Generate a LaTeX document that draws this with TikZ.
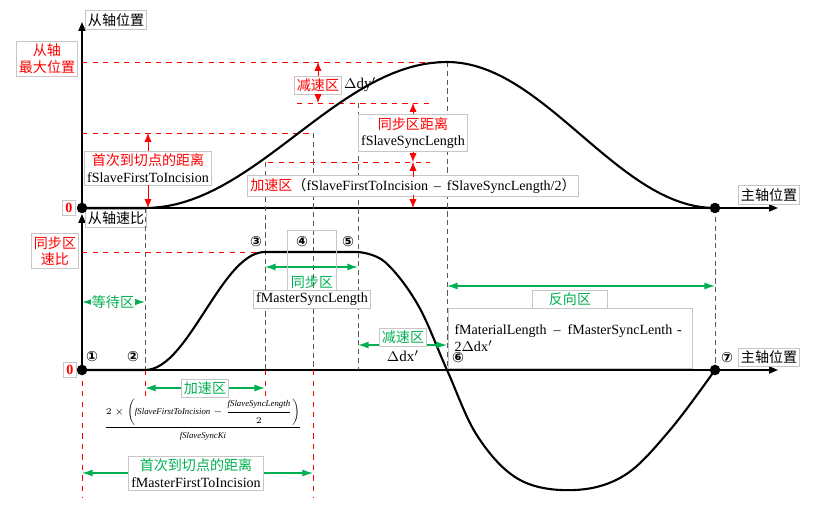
\documentclass[tikz,border=0pt]{standalone}
\usepackage{amsmath}
\usepackage{fontspec}
\setmainfont{Liberation Serif}
\newfontfamily\cjk{Noto Sans CJK SC}
\newfontfamily\symf{DejaVu Sans}
\usetikzlibrary{arrows.meta}
\definecolor{tgreen}{RGB}{0,176,80}
\tikzset{
  lbl/.style={draw=gray!45, fill=white, inner sep=1.5pt, align=center, font=\fontsize{8}{9.5}\selectfont},
  axis/.style={thick, -{Triangle[length=5pt,width=4pt]}},
  guide/.style={densely dashed, gray!70!black, thin},
  redguide/.style={dashed, red, thin},
  redarr/.style={red, thin, -{Latex[length=5pt,width=4pt]}},
  grnarr/.style={tgreen, thick, {Latex[length=6pt,width=4pt]}-{Latex[length=6pt,width=4pt]}},
  dot/.style={circle, fill, inner sep=0pt, minimum size=6pt},
  num/.style={font=\symf\fontsize{8}{9}\selectfont\bfseries, inner sep=0pt}
}
\begin{document}
\begin{tikzpicture}[x=0.02cm, y=-0.02cm]
\useasboundingbox (0,0) rectangle (826,507);

% Coordinates
\coordinate (O1) at (82,208);  \coordinate (O2) at (82,370);
\coordinate (P) at (447,62);   \coordinate (E1) at (715,208);  \coordinate (E2) at (715,370);

% Axes
\draw[axis] (O1) -- (82,22) coordinate (Y1);
\draw[axis] (O1) -- (778,208) coordinate (X1);
\draw[axis] (O2) -- (82,214) coordinate (Y2);
\draw[axis] (O2) -- (778,370) coordinate (X2);
\node[lbl, anchor=west] (ly1) at (85,20) {\cjk 从轴位置};
\node[lbl, anchor=west] (lx1) at (738,195) {\cjk 主轴位置};
\node[lbl, anchor=west] (ly2) at (85,218) {\cjk 从轴速比};
\node[lbl, anchor=west] (lx2) at (738,357) {\cjk 主轴位置};

% Guide lines
\draw[guide] (145,208) -- (145,370);
\draw[guide] (265,162) -- (265,370);
\draw[guide] (313,133) -- (313,370);
\draw[guide] (358,103) -- (358,370);
\draw[guide] (P) -- (447,370);
\draw[guide] (E1) -- (E2);
\draw[redguide] (82,62) -- (P);
\draw[redguide] (297,103) -- (430,103);
\draw[redguide] (82,133) -- (313,133);
\draw[redguide] (268,162) -- (430,162);
\draw[redguide] (82,252) -- (265,252);
\foreach \xx/\yy in {82/497, 145/397, 265/397, 313/497}
  \draw[redguide] (\xx,370) -- (\xx,\yy);

% Curves
\draw[very thick] (O1) -- (145,208)
  -- plot[domain=0:1, samples=40] ({145+302*\x}, {208-73*(1-cos(180*\x))})
  -- plot[domain=0:1, samples=40] ({447+268*\x}, {62+73*(1-cos(180*\x))});
\draw[very thick] (O2) -- (145,370)
  -- plot[domain=0:1, samples=30] ({145+120*\x}, {370-59*(1-cos(180*\x))})
  -- (358,252)
  plot[smooth, tension=0.6] coordinates {(358,252) (385,262) (418,305) (447,370) (478,437) (520,480) (575,490) (625,475) (670,430) (715,370)};
\node[dot] (d1) at (O1) {}; \node[dot] (d2) at (E1) {};
\node[dot] (d3) at (O2) {}; \node[dot] (d4) at (E2) {};

% Top labels
\node[lbl, text=red] (ymax) at (47,59) {\cjk 从轴\\\cjk 最大位置};
\node[lbl, text=red, font=\bfseries\fontsize{8}{9}\selectfont] (z1) at (69,208) {0};
\node[lbl] (first) at (148,168) {\textcolor{red}{\cjk 首次到切点的距离}\\fSlaveFirstToIncision};
\draw[redarr] (first.north) -- (148,133);
\draw[redarr] (first.south) -- (148,208);
\node[lbl, text=red] (dec) at (318,85) {\cjk 减速区};
\node[anchor=west, font=\fontsize{8.5}{9}\selectfont, inner sep=1pt] (dy) at (dec.east) {$\Delta$dy$'$};
\draw[redarr] (dec.north) -- (318,62);
\draw[redarr] (dec.south) -- (318,103);
\node[lbl] (sync) at (413,133) {\textcolor{red}{\cjk 同步区距离}\\fSlaveSyncLength};
\draw[redarr] (sync.north) -- (413,103);
\draw[redarr] (sync.south) -- (413,162);
\node[lbl] (acc) at (413,186) {\textcolor{red}{\cjk 加速区}{\cjk （}fSlaveFirstToIncision \,--\, fSlaveSyncLength/2{\cjk ）}};
\draw[redarr] (413,177) -- (413,162);
\draw[redarr] (413,195) -- (413,208);

% Bottom labels
\node[lbl, text=red] (ssr) at (55,251) {\cjk 同步区\\\cjk 速比};
\node[lbl, text=red, font=\bfseries\fontsize{8}{9}\selectfont] (z2) at (70,370) {0};
\foreach \nn/\xx/\yy in {①/92/357, ②/133/357, ③/256/242, ④/302/242, ⑤/348/242, ⑥/458/358, ⑦/727/358}
  \node[num] at (\xx,\yy) {\nn};
\draw[grnarr] (82,302) -- (145,302);
\node[lbl, draw=none, fill=white, text=tgreen, inner sep=0.5pt] (wait) at (113,302) {\cjk 等待区};
\draw[grnarr] (265,267) -- (358,267);
\node[lbl, fill=none, minimum width=28pt, minimum height=35pt] (syn) at (312,261) {};
\node[text=tgreen, font=\fontsize{8}{9}\selectfont] at (312,282) {\cjk 同步区};
\node[lbl] (msl) at (312,299) {fMasterSyncLength};
\draw[grnarr] (145,388) -- (265,388);
\node[lbl, text=tgreen] (acc2) at (205,388) {\cjk 加速区};
\node[font=\fontsize{5}{6}\selectfont] (frm) at (203,420)
  {$\dfrac{2\times\left(\textit{fSlaveFirstToIncision}-\dfrac{\textit{fSlaveSyncLength}}{2}\right)}{\textit{fSlaveSyncKi}}$};
\draw[grnarr] (358,345) -- (447,345);
\node[lbl, text=tgreen] (dec2) at (403,337) {\cjk 减速区};
\node[font=\fontsize{8.5}{9}\selectfont] (dx) at (403,356) {$\Delta$dx$'$};
\draw[grnarr] (447,286) -- (715,286);
\node[lbl, fill=none, anchor=north west, minimum width=139pt, text width=132pt, minimum height=34pt, align=left] (ml) at (448,308)
  {fMaterialLength \,--\, fMasterSyncLenth - 2$\Delta$dx$'$\par\vspace{14pt}};
\node[lbl, fill=none, text=tgreen, minimum width=43pt] (rev) at (570,299) {\cjk 反向区};
\draw[grnarr] (82,473) -- (313,473);
\node[lbl] (mfi) at (196,473) {\textcolor{tgreen}{\cjk 首次到切点的距离}\\fMasterFirstToIncision};
\end{tikzpicture}
\end{document}
